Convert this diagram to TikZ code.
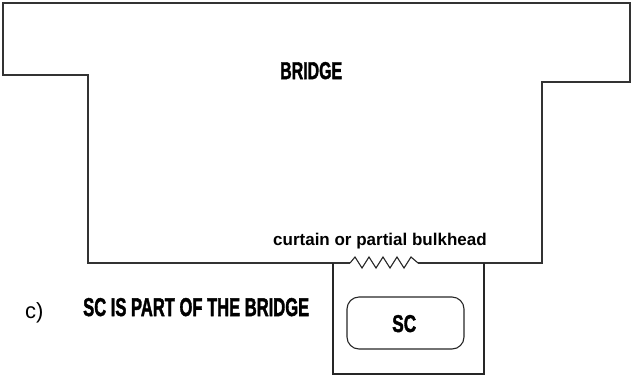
\documentclass[tikz,border=0pt]{standalone}
\usepackage{fontspec}
\setmainfont{Liberation Sans}
\newfontfamily\gruesa{Liberation Sans}[BoldFeatures={FakeBold=2}]
\usetikzlibrary{positioning}
\tikzset{
  muro/.style={line width=1.4pt, draw=black!80},
  caja/.style={line width=1.1pt, draw=black!85},
  rotulo/.style={inner sep=0pt, anchor=base west},
}
% letras estrechas y gruesas
\newcommand{\letrero}[3]{\resizebox{#1pt}{#2pt}{\gruesa\bfseries #3}}

\begin{document}
\begin{tikzpicture}[x=1pt,y=-1pt]
    \useasboundingbox (0,0) rectangle (632,376);
    % Contorno del puente
    \draw[muro] (350,263) -- (88,263) -- (88,75) -- (3,75) -- (3,3) -- (630,3)
        -- (630,82) -- (542,82) -- (542,263) -- (418,263);
    % Cortina o mamparo parcial
    \draw[caja] (350,263) -- (355,257) -- (362,268) -- (369,257) -- (376,268)
        -- (383,257) -- (390,268) -- (397,257) -- (404,268) -- (411,257) -- (418,263);
    % Compartimento SC
    \draw[caja] (333,263) -- (333,374) -- (484,374) -- (484,263);
    \draw[caja, rounded corners=12pt] (347,297) rectangle (464,349);
    % Textos
    \node[rotulo] (puente) at (280,79) {\letrero{62}{17}{BRIDGE}};
    \node[rotulo] (sc) at (392,332) {\letrero{24}{17}{SC}};
    \node[rotulo, font=\fontsize{17}{20}\selectfont\bfseries] (cortina) at (273,245) {curtain or partial bulkhead};
    \node[rotulo, font=\fontsize{22}{24}\selectfont] (letra) at (25,318) {c)};
    \node[rotulo] (frase) at (83,316) {\letrero{226}{18}{SC IS PART OF THE BRIDGE}};
\end{tikzpicture}
\end{document}
